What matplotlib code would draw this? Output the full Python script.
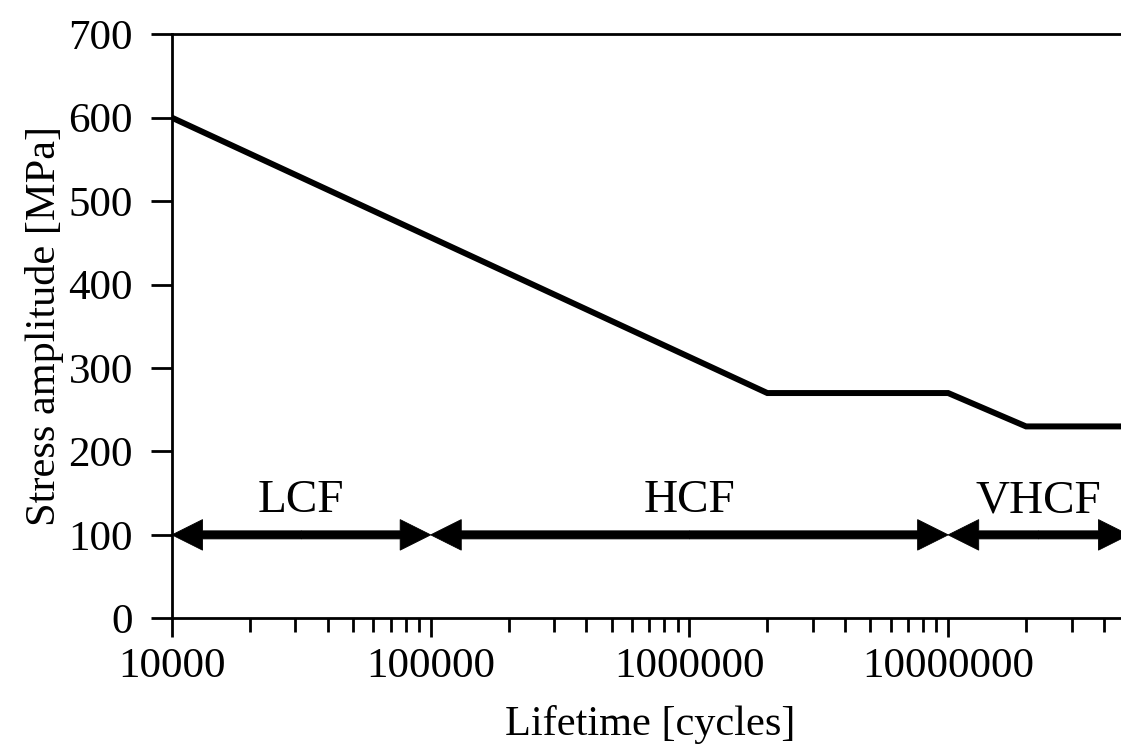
import numpy as np
import matplotlib.pyplot as plt
from matplotlib.patches import FancyArrowPatch
from matplotlib.ticker import FixedLocator, FuncFormatter, NullFormatter

# S-N curve corner points
life = [1e4, 2e6, 1e7, 2e7, 5e7]
stress = [600, 270, 270, 230, 230]

# fatigue regimes shown as arrows along the bottom
regimes = ['LCF', 'HCF', 'VHCF']
regime_start = [1e4, 1e5, 1e7]
regime_end = [1e5, 1e7, 5e7]
arrow_level = 100
label_level = 127

y_ticks = [0, 100, 200, 300, 400, 500, 600, 700]
x_major = [1e4, 1e5, 1e6, 1e7]

plt.rcParams['font.family'] = ['Liberation Serif', 'DejaVu Serif']

fig = plt.figure(figsize=(11.21, 7.51), dpi=100)
ax = fig.add_axes([172 / 1121, 1 - 618.3 / 751, (1129 - 172) / 1121, (618.3 - 34.3) / 751])

ax.plot(life, stress, color='black', lw=4.3, solid_joinstyle='miter')

# double-headed arrow = two single "simple" arrows pointing out from the middle;
# a thin outline closes the seam where they meet
arrow_style = 'simple,head_length=2.2,head_width=2.2,tail_width=0.58'
for name, a, b in zip(regimes, regime_start, regime_end):
    mid = np.sqrt(a * b)
    for end in (a, b):
        ax.add_patch(FancyArrowPatch((mid, arrow_level), (end, arrow_level),
                                     arrowstyle=arrow_style, mutation_scale=10,
                                     lw=0.6, joinstyle='miter', facecolor='black',
                                     edgecolor='black', shrinkA=0, shrinkB=0,
                                     clip_on=False))
    ax.text(mid, label_level, name, ha='center', va='baseline', fontsize=34)

ax.set_xscale('log')
ax.set_xlim(1e4, 5e7)
ax.set_ylim(0, 700)

ax.xaxis.set_major_locator(FixedLocator(x_major))
ax.xaxis.set_major_formatter(FuncFormatter(lambda v, p: f'{int(round(v))}'))
minor = [m * d for d in [1e4, 1e5, 1e6, 1e7] for m in range(2, 10) if m * d <= 5e7]
ax.xaxis.set_minor_locator(FixedLocator(minor))
ax.xaxis.set_minor_formatter(NullFormatter())
ax.set_yticks(y_ticks)

ax.tick_params(axis='both', which='major', direction='out', length=14, width=2,
               labelsize=31, color='black')
ax.tick_params(axis='x', which='major', pad=7)
ax.tick_params(axis='y', which='major', pad=13, length=15)
ax.tick_params(axis='x', which='minor', direction='out', length=10, width=2)

for side in ['left', 'bottom', 'top']:
    ax.spines[side].set_linewidth(2)
ax.spines['right'].set_visible(False)

ax.set_xlabel('Lifetime [cycles]', fontsize=30.5, labelpad=14)
ax.set_ylabel('Stress amplitude [MPa]', fontsize=30.5, labelpad=3)

fig.savefig('out.png', dpi=100)
